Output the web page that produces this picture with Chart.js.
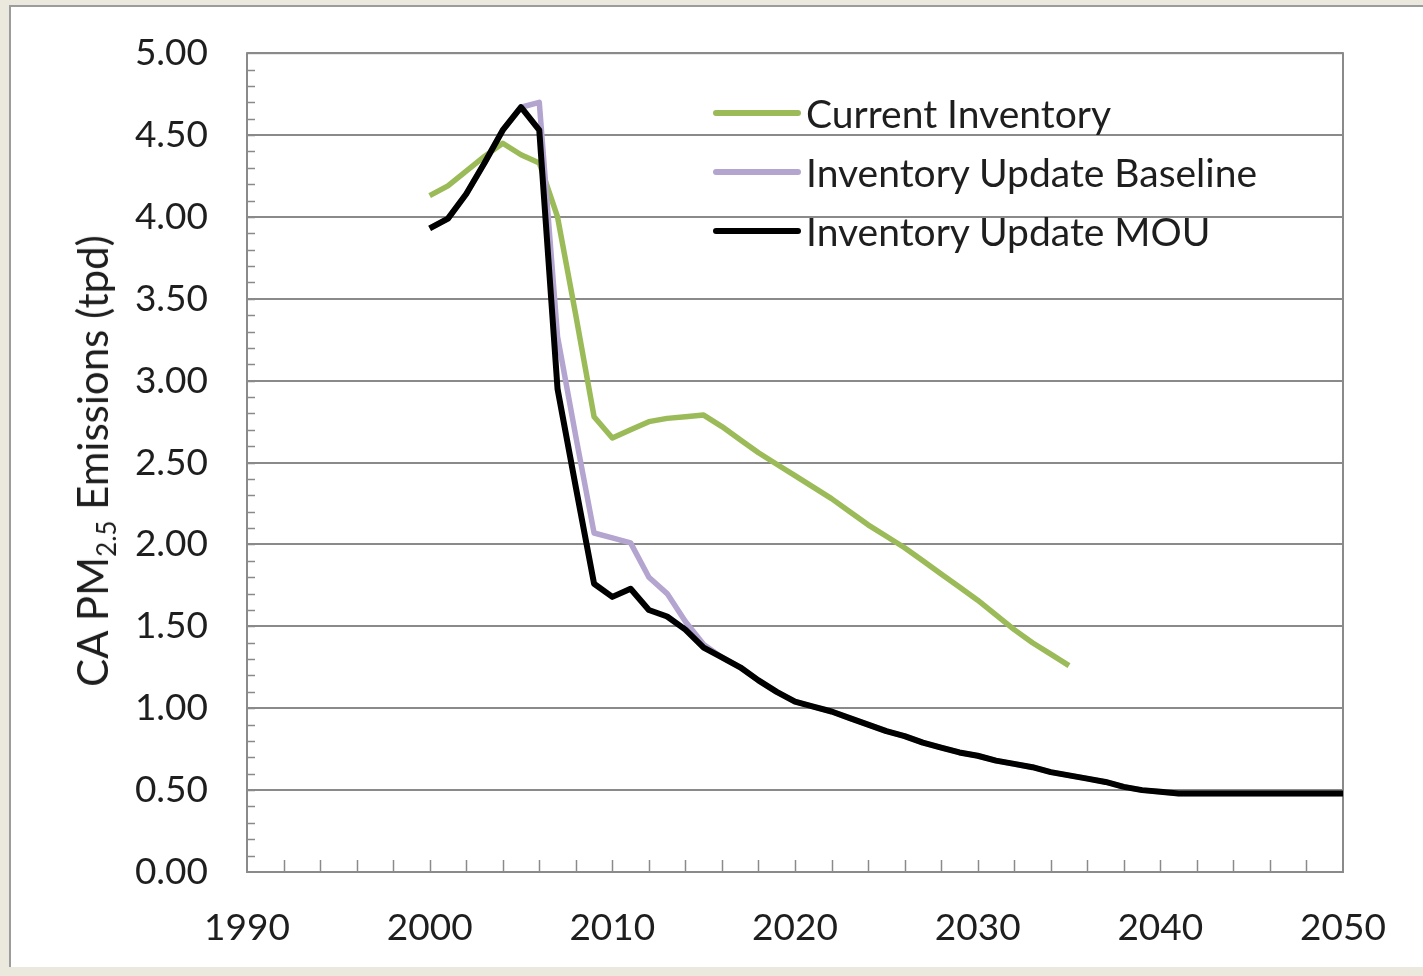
<!DOCTYPE html>
<html>
<head>
<meta charset="utf-8">
<title>CA PM2.5 Emissions</title>
<script src="https://cdn.jsdelivr.net/npm/chart.js@4/dist/chart.umd.min.js"></script>
<style>
  html, body { margin: 0; padding: 0; }
  body {
    width: 1423px; height: 976px; overflow: hidden; position: relative;
    background: #ebe9dd; font-family: Lato, "Open Sans", sans-serif; color: #1e1e1e;
  }
  .panel {
    position: absolute; left: 9px; top: 5px; width: 1414px; height: 960px;
    background: #fff; border-left: 2px solid #9c9c9c; border-top: 2px solid #9c9c9c;
  }
  .chart-box { position: absolute; left: 0; top: -8px; width: 1423px; height: 976px; }
  .y-title {
    position: absolute; left: 92px; top: 461px; white-space: nowrap; font-size: 42px;
    transform: translate(-50%, -50%) rotate(-90deg);
  }
  .y-title sub { font-size: 26px; vertical-align: -8px; line-height: 0; }
  #legend { position: absolute; left: 713px; top: 83px; font-size: 39px; }
  #legend .item { height: 59px; display: flex; align-items: center; white-space: nowrap; }
  #legend .swatch { display: inline-block; width: 88px; height: 6px; margin-right: 5px; border-radius: 3px; }
</style>
</head>
<body>
<div class="panel"></div>
<div class="chart-box"><canvas id="emissions"></canvas></div>
<div class="y-title">CA PM<sub>2.5</sub> Emissions (tpd)</div>
<div id="legend"></div>

<script>
// years of the inventory runs
const years = [
  2000, 2001, 2002, 2003, 2004, 2005, 2006, 2007, 2008, 2009,
  2010, 2011, 2012, 2013, 2014, 2015, 2016, 2017, 2018, 2019,
  2020, 2021, 2022, 2023, 2024, 2025, 2026, 2027, 2028, 2029,
  2030, 2031, 2032, 2033, 2034, 2035, 2036, 2037, 2038, 2039,
  2040, 2041, 2042, 2043, 2044, 2045, 2046, 2047, 2048, 2049, 2050
];

// tons per day, current inventory stops at 2035
const currentInventory = [
  4.13, 4.19, 4.28, 4.37, 4.45, 4.38, 4.33, 4.00, 3.40, 2.78,
  2.65, 2.70, 2.75, 2.77, 2.78, 2.79, 2.72, 2.64, 2.56, 2.49,
  2.42, 2.35, 2.28, 2.20, 2.12, 2.05, 1.98, 1.90, 1.82, 1.74,
  1.66, 1.57, 1.48, 1.40, 1.33, 1.26
];

const updateBaseline = [
  3.93, 3.99, 4.14, 4.33, 4.53, 4.67, 4.70, 3.27, 2.66, 2.07,
  2.04, 2.01, 1.80, 1.70, 1.53, 1.39, 1.31, 1.25, 1.17, 1.10,
  1.04, 1.01, 0.98, 0.94, 0.90, 0.86, 0.83, 0.79, 0.76, 0.73,
  0.71, 0.68, 0.66, 0.64, 0.61, 0.59, 0.57, 0.55, 0.52, 0.50,
  0.49, 0.48, 0.48, 0.48, 0.48, 0.48, 0.48, 0.48, 0.48, 0.48, 0.48
];

const updateMOU = [
  3.93, 3.99, 4.14, 4.33, 4.53, 4.67, 4.53, 2.95, 2.35, 1.76,
  1.68, 1.73, 1.60, 1.56, 1.48, 1.37, 1.31, 1.25, 1.17, 1.10,
  1.04, 1.01, 0.98, 0.94, 0.90, 0.86, 0.83, 0.79, 0.76, 0.73,
  0.71, 0.68, 0.66, 0.64, 0.61, 0.59, 0.57, 0.55, 0.52, 0.50,
  0.49, 0.48, 0.48, 0.48, 0.48, 0.48, 0.48, 0.48, 0.48, 0.48, 0.48
];

const seriesNames = ['Current Inventory', 'Inventory Update Baseline', 'Inventory Update MOU'];
const seriesColors = ['#9bbb59', '#b3a5cf', '#000000'];

const xRange = [1990, 2050];
const yRange = [0, 5];

const axisGray = '#8a8a8a';
const textColor = '#1e1e1e';

function toPoints(values) {
  return values.map((v, i) => ({ x: years[i], y: v }));
}

// inward minor ticks on both axes plus the box round the plot
const plotFrame = {
  id: 'plotFrame',
  beforeDatasetsDraw(chart) {
    const { ctx, chartArea: a, scales: { x, y } } = chart;
    ctx.save();
    ctx.strokeStyle = axisGray;
    ctx.lineWidth = 1.5;
    ctx.beginPath();
    for (let i = 1; i < 50; i++) {
      const py = Math.round(y.getPixelForValue(i / 10)) + 0.5;
      ctx.moveTo(a.left, py);
      ctx.lineTo(a.left + 8, py);
    }
    for (let yr = xRange[0] + 2; yr < xRange[1]; yr += 2) {
      const px = Math.round(x.getPixelForValue(yr)) + 0.5;
      ctx.moveTo(px, a.bottom);
      ctx.lineTo(px, a.bottom - 12);
    }
    ctx.stroke();
    ctx.lineWidth = 2;
    ctx.strokeRect(a.left, a.top, a.right - a.left, a.bottom - a.top);
    ctx.restore();
  }
};

const chart = new Chart(document.getElementById('emissions'), {
  type: 'line',
  data: {
    datasets: [
      { label: seriesNames[0], data: toPoints(currentInventory), borderColor: seriesColors[0], order: 2 },
      { label: seriesNames[1], data: toPoints(updateBaseline), borderColor: seriesColors[1], order: 1 },
      { label: seriesNames[2], data: toPoints(updateMOU), borderColor: seriesColors[2], borderWidth: 6, order: 0 }
    ]
  },
  options: {
    responsive: true,
    maintainAspectRatio: false,
    animation: false,
    layout: { autoPadding: false, padding: { top: 44, right: 80, bottom: 0, left: 0 } },
    elements: {
      point: { radius: 0 },
      line: { borderWidth: 5.5, tension: 0, borderJoinStyle: 'round', borderCapStyle: 'butt' }
    },
    plugins: { legend: { display: false }, tooltip: { enabled: false } },
    scales: {
      x: {
        type: 'linear',
        min: xRange[0],
        max: xRange[1],
        afterFit: s => { s.height = 96; },
        grid: { display: false },
        border: { display: false },
        ticks: {
          stepSize: 10,
          padding: 26,
          color: textColor,
          font: { family: 'Lato', size: 37 },
          maxRotation: 0,
          callback: v => String(v)
        }
      },
      y: {
        min: yRange[0],
        max: yRange[1],
        afterFit: s => { s.width = 247; },
        grid: { color: axisGray, lineWidth: 2, drawTicks: false },
        border: { display: false },
        ticks: {
          stepSize: 0.5,
          padding: 39,
          color: textColor,
          font: { family: 'Lato', size: 37 },
          callback: v => v.toFixed(2)
        }
      }
    }
  },
  plugins: [plotFrame]
});

// legend placed inside the plot, upper right
const legendBox = document.getElementById('legend');
chart.data.datasets.forEach(ds => {
  const item = document.createElement('div');
  item.className = 'item';
  item.innerHTML = '<span class="swatch" style="background:' + ds.borderColor + '"></span>' + ds.label;
  legendBox.appendChild(item);
});
</script>
</body>
</html>
